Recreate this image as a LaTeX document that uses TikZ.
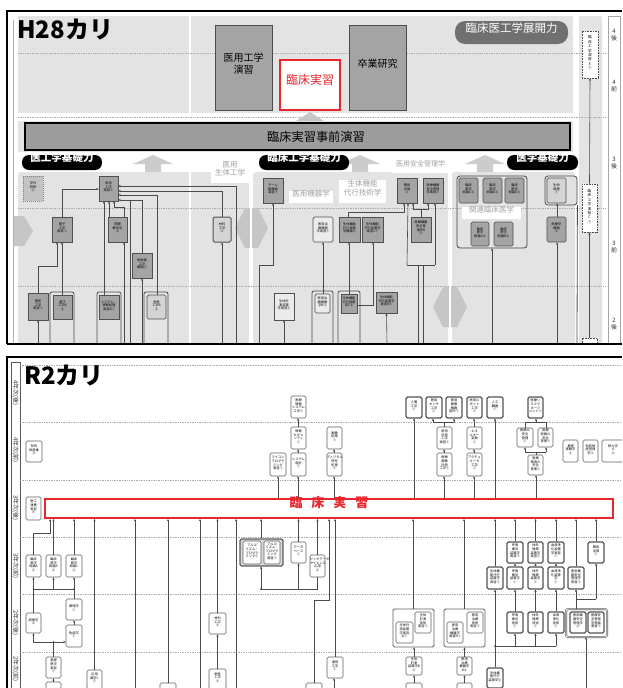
\documentclass[tikz,border=0pt]{standalone}
\usepackage{fontspec}
\setmainfont{Noto Sans CJK JP}
\usetikzlibrary{fit,arrows.meta}
\definecolor{pg}{HTML}{E3E3E3}
\definecolor{bg}{HTML}{A4A4A4}
\definecolor{bd}{HTML}{505050}
\definecolor{lg}{HTML}{D4D4D4}
\definecolor{tg}{HTML}{A0A0A0}
\definecolor{ln}{HTML}{4A4A4A}
\definecolor{rr}{HTML}{E8262B}
\newcommand\tf{\fontsize{3.2}{3.6}\selectfont}
\newcommand\B[7][]{\node[#1,fit={(#3,#4)(#5,#6)}] (#2) {#7};}
\begin{document}
\begin{tikzpicture}[x=1pt,y=-1pt,
 hb/.style={draw=bd,line width=0.7pt,fill=bg,inner sep=0pt,align=center,font=\tf},
 hl/.style={hb,fill=lg,rounded corners=1.5pt},
 hw/.style={hb,fill=white!92!black},
 hdot/.style={hb,fill=lg!80!gray,draw=gray,dash pattern=on 1pt off 1pt},
 edot/.style={draw=gray!60!black,fill=white,line width=0.8pt,dash pattern=on 0.8pt off 0.8pt,inner sep=0pt,align=center,font=\fontsize{3.6}{4.4}\selectfont},
 bigbox/.style={draw=gray!60!black,line width=0.8pt,fill=bg,inner sep=0pt,align=center,font=\fontsize{10}{12}\selectfont},
 tagbox/.style={fill=white,inner sep=1pt,align=center,text=tg,font=\fontsize{7.5}{8.5}\selectfont},
 blk/.style={fill=black,rounded corners=7pt,text=white,inner sep=0pt,font=\fontsize{10.5}{12}\selectfont\bfseries},
 rb/.style={draw=gray!75!black,line width=0.6pt,fill=white,rounded corners=1.5pt,inner sep=0pt,align=center,font=\tf},
 rbt/.style={rb,line width=1.2pt,draw=gray!65!black},
 ar/.style={draw=ln,line width=0.6pt,-{Stealth[length=2.4pt,width=2.2pt]}},
 cn/.style={draw=ln,line width=0.6pt},
 dl/.style={draw=gray!65,line width=0.5pt,dash pattern=on 0.8pt off 0.9pt},
 yl/.style={inner sep=0pt,align=center,font=\fontsize{6}{6.5}\selectfont,text=gray!40!black}
]
\useasboundingbox (0,0) rectangle (622,688);
\fill[white] (0,0) rectangle (622,688);
\begin{scope}
\clip (0,0) rectangle (622,688);
% ================= H28 =================
\fill[pg] (18,16) rectangle (573,113);
\fill[pg] (18,121) rectangle (573,152);
\fill[pg,rounded corners=3pt] (18,172) rectangle (249,344);
\fill[pg,rounded corners=3pt] (253,172) rectangle (448,344);
\fill[pg,rounded corners=3pt] (452,172) rectangle (575,344);
\fill[pg,rounded corners=2pt] (579,16) rectangle (602,344);
\draw[gray!70,fill=white,line width=0.6pt] (608,16) rectangle (620,344);
\draw[white,line width=1.2pt] (190,16) -- (190,113) (190,172) -- (190,344);
\foreach \y in {53,117,208,286} {\draw[dl] (18,\y) -- (606,\y);}
% block arrows
\fill[gray!45] (13,216) -- (24,216) -- (33,231) -- (24,246) -- (13,246) -- cycle;
\fill[gray!45] (235,228) -- (245,208) -- (258,208) -- (268,228) -- (258,248) -- (245,248) -- cycle;
\fill[gray!45] (433,307) -- (443,287) -- (457,287) -- (467,307) -- (457,327) -- (443,327) -- cycle;
\draw[white,line width=1.5pt] (251,200) -- (251,256) (450,280) -- (450,334);
\fill[gray!45] (296,121) -- (310,112) -- (324,121) -- cycle;
\foreach \x in {153,360,485} {\fill[gray!40] (\x-20,164) -- (\x,155) -- (\x+20,164) -- (\x+8,164) -- (\x+8,172) -- (\x-8,172) -- (\x-8,164) -- cycle;}
% frame
\draw[gray!60,line width=0.6pt] (13,20) -- (13,344);
% titles and top boxes
\node[anchor=west,inner sep=0pt,font=\fontsize{24}{26}\selectfont\bfseries] (t28) at (17,30) {H28カリ};
\B[bigbox]{iyo}{215}{25}{272}{110}{医用工学\\演習}
\B[bigbox,fill=white,draw=rr,line width=2pt,text=rr,font=\fontsize{12}{14}\selectfont]{rinsho}{280}{60}{340}{110}{臨床実習}
\B[bigbox]{sotsu}{349}{25}{406}{110}{卒業研究}
\B[fill=gray!75!black!90,rounded corners=10pt,inner sep=0pt,text=white,font=\fontsize{11.5}{13}\selectfont]{tenkai}{455}{21}{568}{44}{臨床医工学展開力}
\B[fill=bg!95!black,draw=black,line width=2.5pt,inner sep=0pt]{bar}{25}{123}{570}{150}{}
\node[font=\fontsize{12.2}{14}\selectfont,inner sep=0pt] (bartxt) at (316,137) {臨床実習事前演習};
\B[blk]{lab1}{22}{155}{102}{170}{医工学基礎力}
\B[blk]{lab2}{259}{155}{349}{170}{臨床工学基礎力}
\B[blk]{lab3}{507}{155}{578}{170}{医学基礎力}
\B[tagbox]{tg1}{212}{162}{248}{182}{医用\\生体工学}
\B[tagbox]{tg2}{290}{192}{332}{202}{医用機器学}
\B[tagbox]{tg3}{340}{181}{385}{202}{生体機能\\代行技術学}
\B[tagbox,font=\fontsize{7}{8}\selectfont]{tg4}{393}{162}{448}{172}{医用安全管理学}
% H28 course boxes
\B[hdot]{h1}{23}{176}{43}{201}{学外\\研修\\②}
\B[hb]{h2}{99}{176}{118}{201}{医用\\工学\\実習①}
\B[hb]{h3}{52}{217}{72}{242}{電子\\工学\\実習①}
\B[hb]{h4}{108}{217}{127}{242}{問題\\解決法\\②}
\B[hb]{h5}{132}{253}{152}{278}{放射線\\工学\\概論②}
\B[hl,line width=1pt]{h6}{213}{217}{231}{242}{材料\\工学\\②}
\B[hb]{h7}{263}{178}{283}{203}{チーム\\医療論\\演習①}
\B[hb]{h8}{28}{293}{48}{320}{電気\\工学\\実習①}
\draw[gray!60!black,line width=0.8pt,rounded corners=2pt] (50,344) -- (50,292) -- (74,292) -- (74,344);
\B[hb]{h9}{53}{295}{72}{319}{電子\\工学B\\②}
\draw[gray!60!black,line width=0.8pt,rounded corners=2pt] (97,344) -- (97,292) -- (121,292) -- (121,344);
\B[hb]{h10}{99}{295}{119}{319}{システム・\\情報処理\\実習B①}
\draw[gray!60!black,line width=0.8pt,rounded corners=2pt] (144,344) -- (144,292) -- (168,292) -- (168,344);
\B[hl]{h11}{147}{295}{166}{319}{物性\\工学B\\②}
\B[hw]{h12}{274}{293}{294}{320}{生体計\\測装置\\学実習①}
\B[hl,fill=white!85!gray]{h13}{313}{217}{333}{242}{医用治\\療機器\\学実習①}
\B[hb]{h14}{339}{217}{360}{242}{生体機能\\代行装置\\学概論②}
\B[hb]{h15}{362}{217}{383}{242}{生体機能\\代行装置学\\実習C①}
\B[hb]{h16}{397}{178}{417}{203}{関係\\法規\\②}
\B[hb]{h17}{423}{178}{443}{203}{医療機器\\安全管理\\学実習①}
\B[hb]{h18}{411}{217}{431}{242}{医療機器\\安全管\\理学B\\②}
\B[draw=gray!50!black,line width=0.8pt,rounded corners=3pt,inner sep=0pt]{hg}{457}{176}{527}{248}{}
\B[tagbox,font=\fontsize{7.5}{8.5}\selectfont]{tg5}{463}{208}{520}{218}{関連臨床医学}
\B[hb,rounded corners=1.5pt]{h19}{459}{178}{478}{203}{臨床\\医学\\総論C②}
\B[hb,rounded corners=1.5pt]{h20}{483}{178}{502}{203}{臨床\\医学\\総論D②}
\B[hb,rounded corners=1.5pt]{h21}{505}{178}{524}{203}{臨床\\医学\\総論E②}
\B[hb,rounded corners=1.5pt]{h22}{471}{222}{489}{246}{臨床\\医学\\総論A②}
\B[hb,rounded corners=1.5pt]{h23}{494}{222}{513}{246}{臨床\\医学\\総論B②}
\B[draw=gray!60!black,line width=0.8pt,rounded corners=3pt,fill=lg!70!white,inner sep=0pt]{h24o}{545}{176}{577}{205}{}
\B[hl]{h24}{547}{178}{566}{203}{生命\\倫理\\①}
\B[hb,rounded corners=1.5pt]{h25}{547}{217}{566}{242}{医療学\\概論\\②}
\draw[gray!60!black,line width=0.8pt,rounded corners=2pt] (312,344) -- (312,291) -- (333,291) -- (333,344);
\B[hl,fill=white!85!gray]{h26}{315}{294}{330}{313}{医用治\\療機器\\学B②}
\draw[gray!60!black,line width=0.8pt,rounded corners=2pt] (338,344) -- (338,291) -- (360,291) -- (360,344);
\B[hb]{h27}{341}{294}{357}{313}{生体機能\\代行装置\\学C②}
\B[hb]{h28}{376}{292}{397}{313}{生体機能\\代行装置学\\実習B①}
\B[edot]{e1}{582}{31}{598}{78}{臨\\床\\工\\学\\演\\習\\E\\①}
\B[edot]{e2}{582}{184}{597}{232}{臨\\床\\工\\学\\演\\習\\C\\①}
\B[edot]{e3}{582}{338}{597}{350}{}
\node[yl] (y1) at (614,35) {4\\後};
\node[yl] (y2) at (614,86) {4\\前};
\node[yl] (y3) at (614,163) {3\\後};
\node[yl] (y4) at (614,247) {3\\前};
\node[yl] (y5) at (614,324) {2\\後};
\foreach \x in {38,124,130,142,222,236,259,284,387,418,423,492,557,577} {\coordinate (H\x) at (\x,344);}
% H28 connectors
\draw[ar] (h3.north) |- (h2.west |- 0,189);
\draw[ar] (h6.north) |- (h2.east |- 0,191);
\draw[ar] (H236) |- (h2.east |- 0,186);
\draw[ar] (h11.north -| 157,0) |- (h2.east |- 0,195);
\draw[ar] (h5.north) |- (h2.east |- 0,200);
\draw[cn] (H130) -- (130,200);
\draw[ar] (h10.north -| 104,0) -- (h2.south -| 104,0);
\draw[ar] (h4.north -| 109,0) -- (h2.south -| 109,0);
\draw[ar] (h4.north -| 124,0) -- (124,207) -| (h2.south -| 114,0);
\draw[ar] (H124) -- (h4.south -| 124,0);
\draw[ar] (H142) -- (h5.south);
\draw[ar] (h8.north) |- (57,266) -- (h3.south -| 57,0);
\draw[ar] (h9.north -| 62,0) -- (h3.south -| 62,0);
\draw[ar] (H38) -- (h8.south);
\draw[ar] (H222) -- (h6.south);
\draw[ar] (H259) |- (273,265) -- (h7.south -| 273,0);
\draw[ar] (H284) -- (h12.south);
\draw[ar] (h26.north -| 323,0) -- (h13.south -| 323,0);
\draw[ar] (h27.north -| 349,0) -- (h14.south -| 349,0);
\draw[ar] (h27.east |- 0,305) -| (h15.south -| 373,0);
\draw[ar] (H387) -- (h28.south);
\draw[ar] (h14.north -| 348,0) |- (404,212) -- (h16.south -| 404,0);
\draw[ar] (h18.north) -- (421,209) -| (h17.south -| 428,0);
\draw[ar] (421,209) -| (h16.south -| 413,0);
\draw[cn] (407,265) -- (435,265);
\draw[ar] (407,265) -- (h16.south -| 408,0);
\draw[ar] (435,265) -- (h17.south -| 435,0);
\draw[cn] (H418) -- (418,265);
\draw[cn] (H423) -- (423,265);
\draw[ar] (H492) -- (hg.south -| 492,0);
\draw[ar] (H557) -- (h25.south -| 557,0);
\draw[ar] (h25.north -| 557,0) -- (h24.south -| 557,0);
\draw[cn,line width=0.8pt,gray!60!black] (h24o.south east) -- (H577);
\draw[ar] (e3.north) -- (e2.south);
\draw[ar] (e2.north) -- (e1.south);
% frame on top
\fill[white] (0,345) rectangle (622,355);
\draw[black,line width=1.5pt] (7,344) -- (7,11) -- (622,11);
\draw[black,line width=1.5pt] (7,344) -- (622,344);
% ================= R2 =================
\draw[black,line width=1.5pt] (7,690) -- (7,357) -- (622,357);
\draw[gray!70!black,line width=0.6pt] (11,362) rectangle (20,700);
\foreach \y in {365,422,480,537,594,652} {\draw[dl] (20,\y) -- (622,\y);}
\node[yl,rotate=-90] (z1) at (15.5,393) {4年次(後)};
\node[yl,rotate=-90] (z2) at (15.5,450) {4年次(前)};
\node[yl,rotate=-90] (z3) at (15.5,508) {3年次(後)};
\node[yl,rotate=-90] (z4) at (15.5,566) {3年次(前)};
\node[yl,rotate=-90] (z5) at (15.5,623) {2年次(後)};
\node[yl,rotate=-90] (z6) at (15.5,669) {2年次(前)};
\node[anchor=west,inner sep=0pt,font=\fontsize{24}{26}\selectfont\bfseries] (tr2) at (24,376) {R2カリ};
\B[draw=rr,line width=2pt,fill=white,inner sep=0pt,text=rr,font=\fontsize{13}{15}\selectfont\bfseries]{rbar}{45}{499}{613}{518}{臨\hspace{9pt}床\hspace{9pt}実\hspace{9pt}習}
% upper R2 boxes
\B[rb]{r1}{26}{441}{42}{462}{知的\\財産権\\②}
\B[rb]{r2}{26}{497}{41}{520}{医工\\連携\\実習\\④}
\B[rb]{r3}{291}{396}{306}{418}{医療\\情報\\システム\\工学①}
\B[rb]{r4}{291}{427}{306}{449}{情報\\セキュ\\リティ\\①}
\B[rb]{r5}{270}{453}{286}{476}{マイコン\\プログラ\\ミング\\実習①}
\B[rb]{r6}{291}{453}{306}{476}{システム\\設計\\①}
\B[rb]{r7}{327}{427}{342}{449}{画像\\処理\\①}
\B[rb]{r8}{327}{453}{342}{476}{ディジタル\\信号\\処理\\①}
\B[rbt]{r9}{406}{397}{422}{418}{人間\\工学\\①}
\B[rbt]{r10}{426}{397}{442}{418}{医用\\センサ\\工学\\①}
\B[rbt]{r11}{446}{397}{462}{418}{医用\\画像\\機器\\設計①}
\B[rbt]{r12}{467}{397}{482}{418}{医用ロ\\ボット\\工学\\①}
\B[rbt]{r13}{487}{397}{503}{418}{人工\\臓器\\①}
\B[rbt]{r14}{528}{397}{543}{418}{医療リ\\スクマ\\ネージ\\メント①}
\B[rb]{r15}{437}{427}{452}{449}{医用\\計測\\工学\\実習①}
\B[rb]{r16}{467}{427}{482}{449}{エネ\\ルギー\\変換\\①}
\B[rb]{r17}{437}{453}{452}{476}{医療\\画像\\計測\\工学①}
\B[rb]{r18}{467}{453}{482}{476}{アクチュ\\エータ\\工学\\①}
\B[rb]{r19}{517}{428}{533}{447}{医療の\\安全\\管理\\①}
\B[rb]{r20}{538}{428}{553}{447}{医療\\設備の\\安全\\管理①}
\B[rb]{r21}{528}{455}{543}{475}{医療\\環境の\\安全\\管理①}
\B[rb]{r22}{563}{440}{578}{462}{基礎\\実験学\\②}
\B[rb]{r23}{583}{440}{598}{462}{知的財\\産管理\\学②}
\B[rb]{r24}{602}{440}{624}{462}{熱力学\\A\\②}
% lower R2 boxes
\B[rb]{s1}{26}{555}{41}{577}{臨床\\医学\\総論A\\②}
\B[rb]{s2}{46}{555}{61}{577}{臨床\\医学\\総論B\\②}
\B[rb]{s3}{66}{555}{82}{577}{臨床\\医学\\総論C\\②}
\B[rb]{s4}{26}{613}{41}{633}{病理学\\②}
\B[rb]{s5}{66}{599}{82}{620}{薬理学\\①}
\B[rb]{s6}{66}{625}{82}{647}{免疫学\\①}
\B[rb]{s7}{46}{657}{61}{678}{基礎\\医学\\実習\\①}
\B[rb]{s8}{46}{682}{61}{702}{}
\B[rb]{s9}{87}{670}{102}{689}{応用\\数学C\\①}
\B[rb]{s10}{160}{683}{176}{703}{}
\B[rb]{s11}{209}{613}{226}{634}{材料\\工学\\②}
\B[rb]{s12}{209}{669}{226}{689}{物性\\工学\\②}
\B[rb,fill=gray!30,line width=1.1pt]{s13}{240}{539}{283}{566}{}
\B[rb]{s13a}{243}{541}{261}{564}{アルゴ\\リズム・\\プログラ\\ミング①}
\B[rb]{s13b}{264}{541}{280}{564}{アルゴ\\リズム・\\プログラ\\ミング\\演習①}
\B[rb]{s14}{291}{542}{306}{563}{データ\\ベース\\①}
\B[rb]{s15}{310}{555}{325}{577}{ビッグデータ\\サイエンス\\応用\\②}
\B[rb]{s16}{306}{683}{322}{703}{}
\B[rb]{s17}{327}{657}{343}{678}{通信\\工学\\①}
\B[rb,line width=0.8pt]{s18}{393}{609}{434}{647}{}
\B[rb]{s18a}{396}{622}{413}{643}{生体計\\測装置\\学実習\\B①}
\B[rb]{s18b}{415}{612}{431}{633}{生体\\計測\\技術\\実習①}
\B[rb]{s19}{406}{657}{422}{675}{生体\\計測\\装置学B\\②}
\B[rb]{s20}{406}{683}{422}{703}{}
\B[rb,line width=0.8pt]{s21}{444}{609}{485}{647}{}
\B[rb]{s21a}{447}{622}{463}{643}{医用\\治療\\機器学\\実習B①}
\B[rb]{s21b}{467}{612}{483}{633}{医用\\治療\\技術\\実習①}
\B[rb]{s22}{457}{657}{472}{675}{医用\\治療\\機器学\\B②}
\B[rb]{s23}{457}{683}{472}{703}{}
\B[rbt]{s24}{487}{567}{503}{589}{生体機\\能代行\\装置学\\実習①}
\B[rbt]{s25}{487}{668}{503}{688}{生体機\\能代行\\装置学②}
\B[rbt]{c1}{507}{542}{523}{563}{呼吸\\療法\\装置学\\実習①}
\B[rbt]{c2}{507}{567}{523}{589}{呼吸\\療法\\装置学\\①}
\B[rbt]{c3}{507}{612}{523}{633}{呼吸\\療法\\技術\\①}
\B[rbt]{d1}{528}{542}{543}{563}{体外\\循環\\装置学\\実習①}
\B[rbt]{d2}{528}{567}{543}{589}{体外\\循環\\装置学\\①}
\B[rbt]{d3}{528}{612}{543}{633}{体外\\循環\\技術\\①}
\B[rbt]{q1}{548}{542}{564}{563}{血液浄\\化装置\\学実習\\①}
\B[rbt]{q2}{548}{567}{564}{589}{血液浄\\化装置\\学\\①}
\B[rbt]{q3}{548}{612}{564}{633}{血液\\浄化\\技術\\①}
\B[rbt]{s26}{568}{567}{584}{589}{医用機\\器安全\\管理学\\実習①}
\B[rbt]{s27}{588}{542}{604}{563}{関係\\法規\\①}
\B[rb,double=white,double distance=0.8pt,line width=0.6pt]{s28}{566}{609}{607}{637}{}
\B[rbt]{s28a}{570}{612}{586}{633}{医用機\\器安全\\管理学\\②}
\B[rbt]{s28b}{588}{612}{604}{633}{医療安\\全管理\\学特論\\実習①}
\foreach \x in {135,200,236,334,586} {\coordinate (R\x) at (\x,688);}
% R2 connectors (upper)
\draw[ar] (rbar.north -| 278,0) -- (r5.south -| 278,0);
\draw[ar] (rbar.north -| 298,0) -- (r6.south -| 298,0);
\draw[ar] (r6.north -| 298,0) -- (r4.south -| 298,0);
\draw[ar] (r4.north -| 298,0) -- (r3.south -| 298,0);
\draw[ar] (rbar.north -| 334,0) -- (r8.south -| 334,0);
\draw[ar] (r8.north -| 334,0) -- (r7.south -| 334,0);
\draw[ar] (rbar.north -| 414,0) -- (r9.south -| 414,0);
\draw[ar] (rbar.north -| 444,0) -- (r17.south -| 444,0);
\draw[ar] (r17.north -| 444,0) -- (r15.south -| 444,0);
\draw[cn] (r15.north -| 444,0) -- (444,422);
\draw[cn] (433,422) -- (454,422);
\draw[ar] (433,422) -- (r10.south -| 433,0);
\draw[ar] (454,422) -- (r11.south -| 454,0);
\draw[ar] (rbar.north -| 474,0) -- (r18.south -| 474,0);
\draw[ar] (r18.north -| 474,0) -- (r16.south -| 474,0);
\draw[ar] (r16.north -| 474,0) -- (r12.south -| 474,0);
\draw[ar] (rbar.north -| 495,0) -- (r13.south -| 495,0);
\draw[ar] (rbar.north -| 536,0) -- (r21.south -| 536,0);
\draw[cn] (r21.north -| 536,0) -- (536,452);
\draw[cn] (525,452) -- (546,452);
\draw[ar] (525,452) -- (r19.south -| 525,0);
\draw[ar] (546,452) -- (r20.south -| 546,0);
\draw[cn] (r19.north -| 525,0) -- (525,422) -- (546,422) -- (r20.north -| 546,0);
\draw[ar] (536,422) -- (r14.south -| 536,0);
% R2 connectors (lower)
\draw[ar] (s1.north) |- (50,533) -- (rbar.south -| 50,0);
\draw[ar] (s2.north) -- (s2.north |- rbar.south);
\draw[ar] (s3.north) -- (s3.north |- rbar.south);
\draw[cn] (s4.north) -- (s4.north |- 0,589) -- (s5.north |- 0,589) -- (s5.north);
\draw[ar] (s1.south |- 0,589) -- (s1.south);
\draw[ar] (s2.south |- 0,589) -- (s2.south);
\draw[ar] (s3.south |- 0,589) -- (s3.south);
\draw[ar] (s6.north) -- (s5.south);
\draw[cn] (s7.north) -- (s7.north |- 0,642);
\draw[ar] (s7.north |- 0,642) -| (s4.south);
\draw[ar] (s7.north |- 0,642) -- (s6.west |- 0,642);
\draw[ar] (s8.north) -- (s7.south);
\draw[ar] (s9.north) -- (s9.north |- rbar.south);
\draw[ar] (R135) -- (R135 |- rbar.south);
\draw[ar] (s10.north) -- (s10.north |- rbar.south);
\draw[ar] (R200) -- (R200 |- rbar.south);
\draw[ar] (s11.north) -- (s11.north |- rbar.south);
\draw[ar] (s12.north) -- (s11.south);
\draw[ar] (R236) -- (R236 |- rbar.south);
\draw[ar] (s13.north -| 261,0) -- (rbar.south -| 261,0);
\draw[ar] (s14.north) -- (s14.north |- rbar.south);
\draw[ar] (s15.north) -- (s15.north |- rbar.south);
\draw[cn] (s15.south) -- (s15.south |- 0,589) -- (261,589);
\draw[ar] (s14.south |- 0,589) -- (s14.south);
\draw[ar] (261,589) -- (s13.south -| 261,0);
\draw[ar] (s16.north) -- (s16.north |- 0,600) -| (rbar.south -| 329,0);
\draw[ar] (s17.north) -- (s17.north |- rbar.south);
\draw[ar] (R334) -- (s17.south -| 334,0);
\draw[ar] (s18.north -| 413,0) -- (rbar.south -| 413,0);
\draw[ar] (s19.north) -- (s19.north |- s18.south);
\draw[ar] (s20.north) -- (s19.south);
\draw[ar] (s21.north -| 464,0) -- (rbar.south -| 464,0);
\draw[ar] (s22.north) -- (s22.north |- s21.south);
\draw[ar] (s23.north) -- (s22.south);
\draw[ar] (s24.north) -- (s24.north |- rbar.south);
\draw[cn] (s25.north) -- (s25.north |- 0,646) -- (q3.south |- 0,646);
\draw[ar] (s25.north |- 0,646) -- (s24.south);
\foreach \a/\b/\c in {c3/c2/c1,d3/d2/d1,q3/q2/q1} {
  \draw[ar] (\a.south |- 0,646) -- (\a.south);
  \draw[ar] (\a.north) -- (\b.south);
  \draw[ar] (\b.north) -- (\c.south);
  \draw[ar] (\c.north) -- (\c.north |- rbar.south);
}
\draw[ar] (s26.north) -- (s26.north |- rbar.south);
\draw[ar] (s27.north) -- (s27.north |- rbar.south);
\draw[cn] (s28.north -| s26.south) -- (s26.south |- 0,599) -- (s27.south |- 0,599);
\draw[ar] (s26.south |- 0,599) -- (s26.south);
\draw[ar] (s27.south |- 0,599) -- (s27.south);
\draw[ar] (R586) -- (s28.south -| 586,0);
\foreach \p in {(s1.south |- 0,589),(s3.south |- 0,589),(s7.north |- 0,642),(s25.north |- 0,646),(261,589)} {\fill[ln] \p circle (1pt);}
\end{scope}
\end{tikzpicture}
\end{document}
